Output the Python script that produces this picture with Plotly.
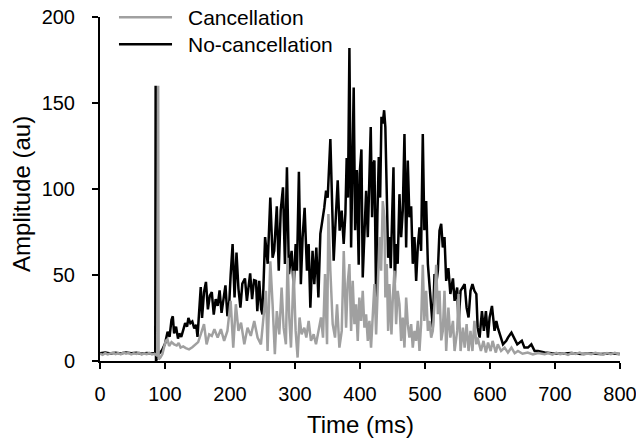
import plotly.graph_objects as go

# ---- No-cancellation (black) ----
t_nocancel = [0, 8, 16, 24, 32, 40, 48, 56, 64, 72, 80, 85, 85.6, 86.2, 90, 95, 100, 104, 107, 110,
              112, 114, 117, 120, 122, 125, 128, 131, 134, 136, 139, 142, 145, 148, 150, 153, 155, 157,
              160, 163, 166, 169, 172, 175, 178, 181, 184, 187, 190, 193, 196, 199, 201, 204, 207, 210,
              213, 216, 219, 223, 226, 229, 231, 234, 237, 240, 242, 245, 248, 250, 252, 254, 258, 262,
              265.5, 268, 272, 275, 278, 281.5, 284.5, 287.6, 290.7, 294.8, 298, 301, 303, 306, 309,
              311.7, 314.8, 318.4, 321, 323.6, 327, 329.7, 332.8, 336, 339, 342.5, 345, 347.8, 350.3,
              354.4, 357, 359.5, 363, 365.7, 368.7, 371.8, 374.9, 377.5, 379.5, 381.5, 383.7, 386.3,
              390.3, 392.5, 395, 398, 399.5, 402.2, 404.2, 406.8, 409.4, 412, 414.5, 416.5, 418.6,
              420.6, 422.2, 424.8, 426.8, 428.9, 431, 433, 435, 437.1, 439, 441.2, 443.3, 445.3, 447.3,
              449.4, 451.5, 453.5, 455.6, 458, 460.7, 463.3, 465.8, 468.4, 471, 473.5, 476, 478.7,
              481.2, 483.8, 486.4, 489, 491.5, 494, 496.6, 499, 501.8, 504.4, 507, 509.5, 512, 514.6,
              517.2, 519.8, 522.3, 524.9, 527.4, 530, 532.6, 536, 539, 543, 545.5, 549.5, 551.6, 554.7,
              558.3, 561, 564, 567, 570, 573, 576, 579, 581, 584, 587.6, 590.6, 593.7, 596.8, 599.4,
              603, 607, 609.7, 612, 614.8, 617, 620, 625, 627.6, 633, 638, 642, 645.6, 649, 653, 658.4,
              663.6, 668.7, 673.8, 684, 695, 710, 725, 740, 755, 770, 785, 800]
a_nocancel = [4.5, 4.9, 4.3, 4.8, 4.4, 5.0, 4.5, 4.8, 4.2, 4.7, 4.4, 4.6, 160, 0, 4, 6, 10, 17, 14, 24,
              26, 16, 20, 13, 16, 14, 18, 22, 20, 25, 22, 23, 19, 21, 14, 30, 43, 25,
              40, 46, 30, 38, 40, 27, 36, 32, 41, 28, 36, 44, 26, 35, 50, 68, 37, 63,
              42, 31, 45, 48, 35, 44, 51, 36, 47, 46.6, 29, 46.6, 30, 27, 45, 72, 56.5, 95,
              60, 64, 90, 52.5, 87.5, 101, 56.4, 112.7, 50.5, 64, 42.7, 68, 52.5, 110, 44.7,
              72, 89, 52.5, 68, 31, 64, 44.7, 66, 37, 73.9, 81.6, 89, 99, 95,
              129, 87.5, 58.3, 85.5, 105, 75.8, 87.5, 68, 85.5, 118, 95, 182, 66,
              159, 76, 111, 56, 109, 123, 48.6, 79.7, 99, 72, 111, 136, 83.6,
              114.7, 116.6, 34, 85.5, 118.6, 95, 142, 138, 145.8, 136, 95, 60, 72, 54,
              83.6, 112.7, 45, 68, 56.5, 97, 72, 87.5, 132, 66, 116.6, 83.6, 90,
              56.5, 72, 46.6, 67, 77.7, 64, 132, 76, 93, 56.5, 43, 31.7, 19.4, 50.6,
              44.7, 52.5, 75.8, 79.7, 66, 72, 46.6, 54, 39, 48, 35, 42.7, 21.5, 40.8,
              42.7, 44.7, 31, 25.3, 40.8, 44.7, 40.8, 38.9, 19.4, 13.6, 29, 17.5, 29, 13.6, 25.3,
              32, 17.5, 23.3, 19.4, 15.5, 13.6, 9.7, 11.7, 13.6, 16.5, 12.6, 9.7, 10.7, 11.7, 7.8, 7.8,
              9.7, 5.8, 5.8, 4.9, 4.5, 4.2, 4.6, 4.0, 4.4, 4.1, 4.3, 4.0]

# ---- Cancellation (gray) ----
t_cancel = [0, 4, 8, 12, 16, 20, 24, 28, 32, 36, 40, 44, 48, 52, 56, 60, 64, 68, 72, 76, 80, 84, 88,
            89.5, 90.2, 93, 96, 99, 101, 103.8, 106.3, 110, 114, 118, 121, 124, 128, 132, 137, 142,
            147, 151, 155, 160, 164, 168, 172, 176, 181, 186, 191, 196, 201, 205, 209, 213, 217, 222,
            227, 232, 237.3, 242.4, 247.6, 251.7, 255.3, 257.8, 262, 265.5, 269, 272, 275.8, 279.4,
            282.5, 286, 288.6, 291.2, 293.8, 297.9, 301, 304, 307, 310.2, 314.3, 317.4, 321, 324.6,
            328.7, 332.3, 336, 340, 343.1, 346.2, 349.3, 351.4, 354.4, 358, 361.6, 364.7, 368.3,
            371.9, 375, 378.6, 381, 383.7, 386.3, 388.8, 391.4, 394, 396.5, 399, 401.7, 404.2, 406.8,
            409.4, 412, 414.5, 417, 419.6, 422.2, 424.8, 427.3, 430, 432.5, 435, 437.6, 439, 441.2,
            443.3, 445.3, 448.4, 450.5, 453, 455.6, 458, 460.7, 463.3, 465.8, 468.4, 471, 473.5, 476,
            478.7, 481.2, 483.8, 486.4, 489, 491.5, 494, 496.6, 499, 501.8, 504.4, 507, 509.5, 512,
            514.6, 517.2, 519.8, 522.3, 525, 527.4, 530, 532.6, 536, 539, 543, 545.5, 549.5, 551.6,
            554.7, 558.3, 561, 564, 567, 570, 573, 576, 579, 581, 586, 590, 593.7, 597, 601, 604, 609,
            612, 617, 622.5, 627.6, 633, 638, 643, 650, 658, 666, 674, 684, 690, 696, 702, 708, 714,
            720, 726, 732, 738, 744, 750, 756, 762, 768, 774, 780, 786, 792, 798, 800]
a_cancel = [4.2, 3.6, 4.5, 3.8, 4.4, 4.9, 4.0, 4.6, 3.9, 5.0, 4.3, 4.7, 3.8, 4.5, 4.1, 4.8, 3.7, 4.4, 4.0, 4.7, 3.8, 4.2, 3.0,
            160, 1, 2, 4, 9, 11.7, 12.6, 8.7, 11, 9.7, 9, 10.5, 7.8, 8.5, 7.5, 6.8, 8,
            9.7, 11, 15.5, 21.4, 9.7, 15.5, 14.6, 18.5, 13.6, 18.5, 11.7, 17.5, 35, 7.8, 33, 17.5, 22.3, 9.7,
            19.4, 14.6, 23.3, 13.6, 9.7, 25.3, 40.8, 5.8, 58, 33, 3.9, 29, 15.5, 42.7,
            19.4, 9.7, 60, 25.3, 7.8, 52.5, 17.5, 2, 25.3, 15.5, 19.4, 13.6, 23.3, 11.7,
            15.5, 9.7, 17.5, 25.3, 13.6, 50.5, 9.7, 85.5, 52.5, 21.4, 13.6, 33, 7.8,
            17.5, 64, 19.4, 45, 56.4, 17.5, 46.6, 21.4, 33, 11.7, 36.9, 23.3, 40.8, 19.4,
            27.2, 11.7, 23.3, 7.8, 29, 44.7, 15.5, 38.9, 72, 52.5, 93, 83.6, 36.9, 56.4,
            17.5, 44.7, 15.5, 36.9, 52.5, 21.4, 40.8, 33, 11.7, 25.3, 7.8, 36.9, 21.4, 13.6,
            21.4, 7.8, 17.5, 11.7, 23.3, 5.8, 21.4, 56, 23.3, 40.8, 17.5, 23.3, 13.6, 17.5,
            33, 56, 27.2, 40.8, 12, 17.5, 40.8, 5.8, 31, 13.6, 23.3, 5.8, 17.5, 39,
            5.8, 19.4, 7.8, 21.4, 5.8, 17.5, 5.8, 23.3, 9.7, 13.6, 5.8, 11.7, 4.9, 10.7, 5.8, 11.7, 4.9,
            9.7, 5.8, 7.8, 4.9, 7.8, 4.5, 5.8, 4.2, 4.9, 3.8, 4.6, 3.9, 4.6, 3.7, 4.8, 4.0, 4.5,
            3.6, 4.7, 4.1, 4.9, 3.8, 4.4, 3.9, 4.8, 4.2, 3.7, 4.6, 4.0, 4.7, 3.9, 4.2]

x_ticks = [0, 100, 200, 300, 400, 500, 600, 700, 800]
y_ticks = [0, 50, 100, 150, 200]
legend_names = ["Cancellation", "No-cancellation"]
legend_colors = ["#a0a0a0", "#000000"]

FONT = "Liberation Sans, Arial, sans-serif"

fig = go.Figure()
fig.add_trace(go.Scatter(x=t_nocancel, y=a_nocancel, mode="lines", name="No-cancellation",
                         line=dict(color="#000000", width=2.5), showlegend=False))
fig.add_trace(go.Scatter(x=t_cancel, y=a_cancel, mode="lines", name="Cancellation",
                         line=dict(color="#a0a0a0", width=2.5), showlegend=False))

# legend drawn by hand (paper coordinates)
legend_y = [0.999, 0.921]
for name, col, ly in zip(legend_names, legend_colors, legend_y):
    fig.add_shape(type="line", xref="paper", yref="paper", x0=0.0365, x1=0.1385, y0=ly, y1=ly,
                  line=dict(color=col, width=2.5))
    fig.add_annotation(text=name, xref="paper", yref="paper", x=0.168, y=ly,
                       xanchor="left", yanchor="middle", showarrow=False, borderpad=0,
                       font=dict(size=21, color="black", family=FONT))

# axis titles
fig.add_annotation(text="Amplitude (au)", xref="paper", yref="paper", x=-0.151, y=0.487,
                   xanchor="center", yanchor="middle", textangle=-90, showarrow=False,
                   borderpad=0, font=dict(size=24, color="black", family=FONT))
fig.add_annotation(text="Time (ms)", xref="paper", yref="paper", x=0.5, y=-0.185,
                   xanchor="center", yanchor="middle", showarrow=False, borderpad=0,
                   font=dict(size=24, color="black", family=FONT))

# the page body adds an 8px offset, so the figure is 636x437
fig.update_layout(
    width=636, height=437,
    margin=dict(l=92, r=24, t=9, b=84, autoexpand=False),
    paper_bgcolor="white", plot_bgcolor="white",
    font=dict(family=FONT, size=20, color="black"),
    showlegend=False,
)
fig.update_xaxes(range=[0, 800], tickvals=x_ticks, ticktext=[str(v) for v in x_ticks],
                 showline=True, linecolor="black", linewidth=2, ticks="outside", ticklen=6,
                 tickwidth=2, tickcolor="black", showgrid=False, zeroline=False,
                 automargin=False, ticklabeloverflow="allow",
                 tickfont=dict(size=20), ticklabelstandoff=8)
fig.update_yaxes(range=[0, 200], tickvals=y_ticks, ticktext=[str(v) for v in y_ticks],
                 showline=True, linecolor="black", linewidth=2, ticks="outside", ticklen=6,
                 tickwidth=2, tickcolor="black", showgrid=False, zeroline=False,
                 automargin=False, ticklabeloverflow="allow",
                 tickfont=dict(size=20), ticklabelstandoff=13)

fig.write_html("out.html")
